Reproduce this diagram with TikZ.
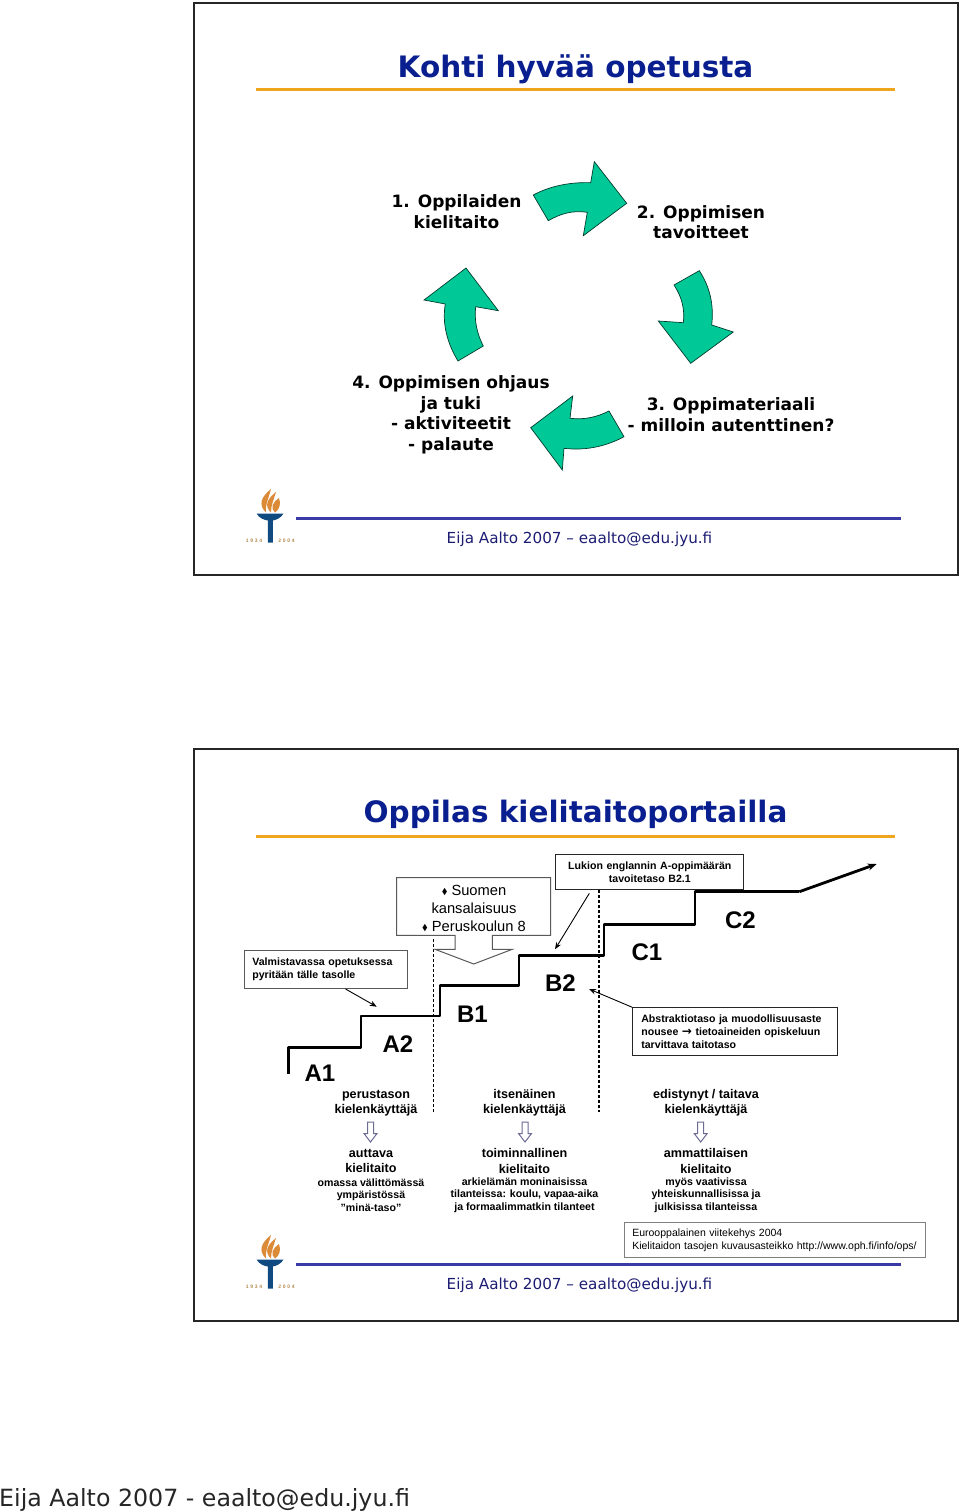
\documentclass[tikz,border=0pt]{standalone}
\usepackage{amsmath,amssymb}
\usepackage{fontspec}
\setmainfont{Liberation Sans}
\newfontfamily\verd{DejaVu Sans}
\usepackage{xcolor}
\usepackage{tikz}
\usetikzlibrary{arrows.meta,calc}
\definecolor{titleblue}{HTML}{0A1F8F}
\definecolor{footblue}{HTML}{1C1C72}
\definecolor{ruleblue}{HTML}{3A3AA6}
\definecolor{ruleorange}{HTML}{EFA51E}
\definecolor{arrowgreen}{HTML}{00C896}
\definecolor{flame}{HTML}{DB8A38}
\definecolor{torch}{HTML}{0F4A80}
\definecolor{yeartan}{HTML}{B08A50}
\definecolor{slate}{HTML}{6A6A92}
\newcommand{\fsize}[2]{\fontsize{#1}{#2}\selectfont}
\newcommand{\dmd}{{\fsize{8.5}{8}\raisebox{.6pt}{$\blacklozenge$}}}

\begin{document}
\begin{tikzpicture}[x=1pt,y=-1pt,
  slidetitle/.style={font=\verd\bfseries\fsize{29.5}{36},text=titleblue,inner sep=0pt},
  cycletext/.style={font=\verd\bfseries\fsize{17}{20.5},align=center,inner sep=0pt},
  cyclearrow/.style={fill=arrowgreen,draw=black!70!arrowgreen,line width=.7pt,line join=miter},
  notebox/.style={draw=black!70,line width=1pt,fill=white,font=\bfseries\fsize{10.6}{12.7},align=left,anchor=north west,inner ysep=0pt},
  level/.style={font=\bfseries\fsize{24}{26},inner sep=0pt},
  kind/.style={font=\bfseries\fsize{12.6}{15.2},align=center,inner sep=0pt},
  detail/.style={font=\bfseries\fsize{10.6}{12.7},align=center,inner sep=0pt},
  hollow/.style={draw=slate,fill=white,line width=1pt,line join=miter},
  pointer/.style={-{Stealth[length=7pt,width=5.5pt]},line width=.9pt},
  stairs/.style={line width=2.8pt,line join=round}]
  \useasboundingbox (0,0) rectangle (960,1511);
  % slide frames, rules, logo and footer
  \foreach \yo in {0,746}{
    \draw[black!85,line width=2.4pt] (193.8,3.2+\yo) rectangle (958,575+\yo);
    \draw[ruleorange,line width=3pt] (256,90+\yo)--(895,90+\yo);
    \draw[ruleblue,line width=2.6pt] (296,518.5+\yo)--(901,518.5+\yo);
    \node[font=\verd\fsize{15.2}{18},text=footblue,inner sep=0pt] (foot\yo) at (579.5,539+\yo) {Eija Aalto 2007 – eaalto@edu.jyu.fi};
    \fill[torch] (256.5,513.5+\yo)--(283.5,513.5+\yo)..controls (281,518+\yo) and (276,520+\yo) .. (272.8,520.5+\yo)--(272.8,542.5+\yo)--(267.8,542.5+\yo)--(267.8,520.5+\yo)..controls (264,520+\yo) and (259,518+\yo) .. cycle;
    \fill[flame] (271,489+\yo)..controls (261,497+\yo) and (258,505+\yo) .. (266,512.5+\yo)..controls (265,505+\yo) and (269,497+\yo) .. cycle;
    \fill[flame] (276,492+\yo)..controls (267,499+\yo) and (264,506+\yo) .. (271,512.5+\yo)..controls (271,505+\yo) and (274,499+\yo) .. cycle;
    \fill[flame] (279,498+\yo)..controls (272,503+\yo) and (270,508+\yo) .. (275,512.5+\yo)..controls (280,509+\yo) and (281,504+\yo) .. cycle;
    \node[font=\fsize{5}{5}\bfseries,text=yeartan,inner sep=0pt] (yeara\yo) at (254,541+\yo) {1\,\,9\,\,3\,\,4};
    \node[font=\fsize{5}{5}\bfseries,text=yeartan,inner sep=0pt] (yearb\yo) at (286.5,541+\yo) {2\,\,0\,\,0\,\,4};
  }
  \node[slidetitle] (titleone) at (575.5,69) {Kohti hyvää opetusta};
  \node[slidetitle] (titletwo) at (575.5,814) {Oppilas kielitaitoportailla};

  % cycle
  \draw[cyclearrow] (533.3,195)..controls (550,186) and (570,182) .. (590.7,182.7)--(594.3,161.7)--(626.7,203.3)--(583.3,235.7)--(587.3,212.3)..controls (572,210) and (560,214) .. (548.3,220.7)--cycle;
  \draw[cyclearrow] (674,285)--(699.3,270.7)..controls (710,287) and (714,305) .. (711.7,325)--(733.3,332)--(690.7,363.3)--(658.3,321)--(683.3,322.7)..controls (685,310) and (682,297) .. cycle;
  \draw[cyclearrow] (609,411)--(624,436.7)..controls (607,446) and (586,451) .. (564,448.3)--(562.3,470)--(530.7,427.7)--(572.7,396)--(570,418.3)..controls (585,420) and (597,417) .. cycle;
  \draw[cyclearrow] (483.3,346)--(458,361)..controls (447,343) and (442,323) .. (445.3,304)--(424,300)--(466,268)--(498.3,310.7)--(475.7,306.7)..controls (474,320) and (477,334) .. cycle;
  \node[cycletext] (goalone) at (456.5,211.5) {1. Oppilaiden\\kielitaito};
  \node[cycletext] (goaltwo) at (701,222) {2. Oppimisen\\tavoitteet};
  \node[cycletext] (goalthree) at (731,414.5) {3. Oppimateriaali\\- milloin autenttinen?};
  \node[cycletext] (goalfour) at (451,415) {4. Oppimisen ohjaus\\ja tuki\\- aktiviteetit\\- palaute};

  % stairs
  \draw[black,dashed,line width=1.1pt,dash pattern=on 3pt off 2pt] (433.5,939)--(433.5,1112);
  \draw[black,dashed,line width=1.1pt,dash pattern=on 3pt off 2pt] (599,890)--(599,1112);
  \draw[stairs] (288.3,1074)--(288.3,1047.3)--(361,1047.3)--(361,1016)--(440,1016)--(440,985.7)--(519,985.7)--(519,955.7)--(604,955.7)--(604,924.7)--(695,924.7)--(695,891.7)--(799.3,891.7);
  \draw[line width=2.8pt,-{Stealth[length=9pt,width=7pt]}] (799.3,891.7)--(876.7,864);
  \foreach \lab/\xx/\yy in {A1/320/1073.5,A2/398/1044.5,B1/472.5/1014.5,B2/560.5/983.5,C1/647/952.5,C2/740.5/920.5}{
    \node[level] (lev\lab) at (\xx,\yy) {\lab};
  }

  % note boxes
  \node[notebox,draw=black!65,text width=147pt,inner xsep=8.3pt,minimum height=38pt] (valmis) at (243.5,950) {Valmistavassa opetuksessa\\pyritään tälle tasolle};
  \node[notebox,draw=black!85,text width=171pt,inner xsep=8.5pt,minimum height=35pt,align=center] (lukion) at (555.3,854.3) {Lukion englannin A-oppimäärän\\tavoitetaso B2.1};
  \node[notebox,draw=black!85,text width=188pt,inner xsep=8.5pt,minimum height=48pt] (abstrakti) at (632.3,1007.3) {Abstraktiotaso ja muodollisuusaste\\nousee {\verd\fsize{12}{12}→} tietoaineiden opiskeluun\\tarvittava taitotaso};
  \node[notebox,draw=black!50,font=\fsize{10.5}{12.7},text width=285pt,inner xsep=8.3pt,minimum height=34.5pt] (viite) at (623.5,1222.3) {Eurooppalainen viitekehys 2004\\\makebox[285pt][l]{Kielitaidon tasojen kuvausasteikko http://www.oph.fi/info/ops/}};
  \draw[draw=black!65,fill=white,line width=1pt] (396.7,877.7)--(550.7,877.7)--(550.7,935.3)--(492.3,935.3)--(492.3,949.3)--(512.3,949.3)--(473.7,964)--(435,949.3)--(455,949.3)--(455,935.3)--(396.7,935.3)--cycle;
  \node[font=\fsize{14.7}{18},align=center,inner sep=0pt] (suomen) at (474,908.5) {\dmd\ Suomen\\kansalaisuus\\\dmd\ Peruskoulun 8};

  % pointers
  \coordinate (valmisend) at (376.7,1006.7);
  \coordinate (lukionend) at (555,949.3);
  \coordinate (abstraktiend) at (589,989);
  \draw[pointer] ($(valmis.south west)!.62!(valmis.south east)$)--(valmisend);
  \draw[pointer] ($(lukion.south west)!.18!(lukion.south east)+(0,3)$)--(lukionend);
  \draw[pointer] (abstrakti.north west)--(abstraktiend);

  % level columns
  \node[kind] (usera) at (376,1103) {perustason\\kielenkäyttäjä};
  \node[kind] (userb) at (524.5,1103) {itsenäinen\\kielenkäyttäjä};
  \node[kind] (userc) at (706,1103) {edistynyt / taitava\\kielenkäyttäjä};
  \foreach \xx in {370.5,525,700.7}{
    \draw[hollow] (\xx-3,1122)--(\xx+3,1122)--(\xx+3,1133.5)--(\xx+6.5,1133.5)--(\xx,1142)--(\xx-6.5,1133.5)--(\xx-3,1133.5)--cycle;
  }
  \node[kind] (skilla) at (371,1161) {auttava\\kielitaito};
  \node[kind] (skillb) at (524.5,1161) {toiminnallinen\\kielitaito};
  \node[kind] (skillc) at (706,1161) {ammattilaisen\\kielitaito};
  \node[detail] (placea) at (371,1195) {omassa välittömässä\\ympäristössä\\”minä-taso”};
  \node[detail] (placeb) at (524.5,1195) {arkielämän moninaisissa\\tilanteissa: koulu, vapaa-aika\\ja formaalimmatkin tilanteet};
  \node[detail] (placec) at (706,1195) {myös vaativissa\\yhteiskunnallisissa ja\\julkisissa tilanteissa};

  \node[font=\verd\fsize{23.7}{28},text=black!85,anchor=west,inner sep=0pt] (bottomfoot) at (-1,1499.5) {Eija Aalto 2007 - eaalto@edu.jyu.fi};
\end{tikzpicture}
\end{document}
